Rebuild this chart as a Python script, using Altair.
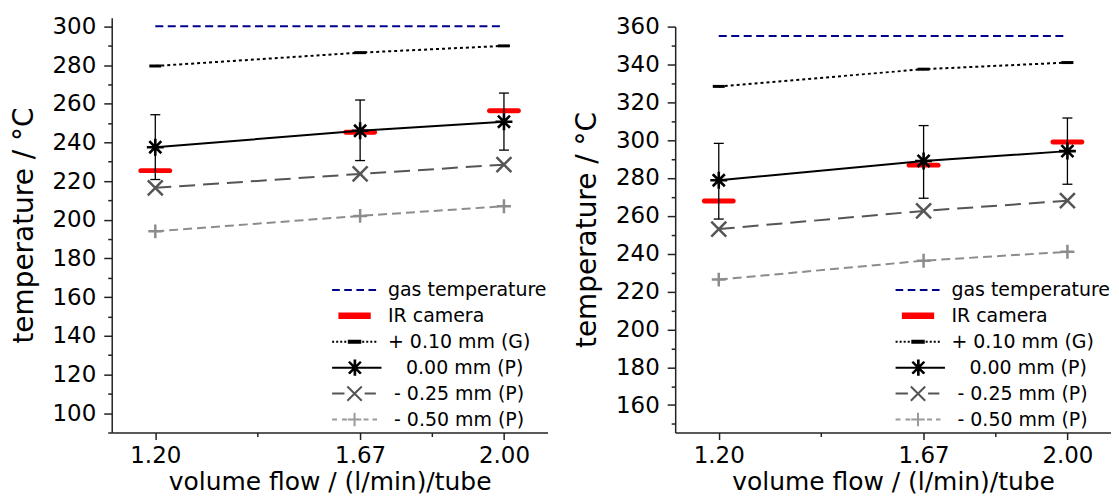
import altair as alt
import pandas as pd

FONT = "DejaVu Sans"

flow = [1.20, 1.67, 2.00]

# ---- left panel values (°C) ----
L_gas = [300.0, 300.0, 300.0]
L_ir = [225.4, 245.2, 256.3]
L_g010 = [279.5, 286.4, 289.9]
L_p000 = [237.5, 246.0, 250.7]
L_p000_lo = [220.8, 230.6, 236.0]
L_p000_hi = [254.3, 261.9, 265.5]
L_p025 = [216.5, 223.7, 228.5]
L_p050 = [194.0, 202.0, 207.0]

# ---- right panel values (°C) ----
R_gas = [355.0, 355.0, 355.0]
R_ir = [267.9, 286.8, 299.0]
R_g010 = [328.4, 337.5, 341.0]
R_p000 = [278.8, 289.0, 294.2]
R_p000_lo = [258.3, 269.3, 276.7]
R_p000_hi = [298.3, 307.7, 311.7]
R_p025 = [253.0, 262.6, 268.0]
R_p050 = [226.3, 236.3, 241.0]

x_major = [1.20, 1.67, 2.00]
x_minor = [1.435, 1.835]

ZW = "\u200b"
NB = "\u00a0"
series = ["gas temperature", "IR camera", "+ 0.10 mm (G)",
          ZW + NB * 3 + "0.00 mm (P)", ZW + NB + "- 0.25 mm (P)", ZW + NB + "- 0.50 mm (P)"]

NAVY = "#00008b"
RED = "#ff0000"
BLACK = "#000000"
DGRAY = "#555555"
LGRAY = "#8c8c8c"
series_colors = [NAVY, RED, BLACK, BLACK, DGRAY, "#9a9a9a"]


def segs(x0, x1, dash, gap, y=0.0):
    out = []
    x = x0
    while x < x1 - 1e-9:
        e = min(x + dash, x1)
        out.append(f"M{x:.3f},{y:.3f}H{e:.3f}")
        x = e + gap
    return "".join(out)


ASTER = "M0,-1V1M-1,0H1M-0.71,-0.71L0.71,0.71M-0.71,0.71L0.71,-0.71"
XMARK = "M-1,-1L1,1M-1,1L1,-1"
PLUS = "M-1,0H1M0,-1V1"

leg_paths = [
    segs(-1, 1, 0.34, 0.2),
    "".join(f"M-0.72,{y}H0.72" for y in (-0.1, -0.05, 0, 0.05, 0.1)),
    segs(-1, -0.32, 0.09, 0.09) + "M-0.3,0H0.3M-0.3,0.04H0.3M-0.3,-0.04H0.3" + segs(0.34, 1, 0.09, 0.09),
    "M-1,0H1.2M0,-0.36V0.36M-0.36,0H0.36M-0.26,-0.26L0.26,0.26M-0.26,0.26L0.26,-0.26"
    "M0.03,-0.36V0.36M-0.23,-0.26L0.29,0.26M-0.23,0.26L0.29,-0.26",
    "M-1,0H-0.45M0.45,0H0.95M-0.32,-0.32L0.32,0.32M-0.32,0.32L0.32,-0.32",
    segs(-1, -0.34, 0.22, 0.22) + "M-0.3,0H0.3M0,-0.3V0.3" + segs(0.4, 1, 0.22, 0.18),
]

X_TEST = " && ".join(f"datum.value != {v}" for v in x_minor)


def xenc():
    return alt.X(
        "flow:Q",
        scale=alt.Scale(domain=[1.1, 2.1], nice=False, zero=False),
        axis=alt.Axis(
            values=sorted(x_major + x_minor),
            labelExpr=f"({X_TEST}) ? format(datum.value, '.2f') : ''",
            tickSize={"expr": f"({X_TEST}) ? 7 : 4"},
            labelOverlap=False, labelFlush=False, grid=False,
            labelPadding=5, titlePadding=2, titleFontSize=25,
        ),
        title="volume flow / (l/min)/tube",
    )


def yenc(field, domain, rng, vals):
    sc = alt.Scale(domain=domain, nice=False, zero=False)
    if rng is not None:
        sc = alt.Scale(domain=domain, nice=False, zero=False, range=rng)
    return alt.Y(
        f"{field}:Q",
        scale=sc,
        axis=alt.Axis(
            values=vals,
            labelExpr="datum.value % 20 === 0 ? datum.label : ''",
            tickSize={"expr": "datum.value % 20 === 0 ? 8 : 4"},
            labelOverlap=False, grid=False,
            labelPadding=8, titlePadding=14, titleFontSize=28,
        ),
        title="temperature / °C",
    )


def panel(gas, ir, g, p0, lo, hi, p25, p50, domain, rng, vals):
    df = pd.DataFrame({"flow": flow, "gas": gas, "ir": ir, "g": g, "p0": p0,
                       "lo": lo, "hi": hi, "p25": p25, "p50": p50})
    base = alt.Chart(df)
    X = xenc
    Y = lambda f: yenc(f, domain, rng, vals)

    gas_l = base.mark_line(color=NAVY, strokeWidth=2, strokeDash=[8, 4.5]).encode(x=X(), y=Y("gas"))
    ir_t = base.mark_tick(orient="horizontal", color=RED, size=34, thickness=5, cornerRadius=2.5, opacity=1).encode(x=X(), y=Y("ir"))
    g_l = base.mark_line(color=BLACK, strokeWidth=2, strokeDash=[3, 3]).encode(x=X(), y=Y("g"))
    g_m = base.mark_tick(orient="horizontal", color=BLACK, size=12, thickness=3, opacity=1).encode(x=X(), y=Y("g"))
    p25_l = base.mark_line(color=DGRAY, strokeWidth=2, strokeDash=[16, 8]).encode(x=X(), y=Y("p25"))
    p25_m = base.mark_point(shape=XMARK, size=225, filled=False, strokeWidth=2.5, color=DGRAY, opacity=1).encode(x=X(), y=Y("p25"))
    p50_l = base.mark_line(color=LGRAY, strokeWidth=2, strokeDash=[9, 5]).encode(x=X(), y=Y("p50"))
    p50_m = base.mark_point(shape=PLUS, size=196, filled=False, strokeWidth=2.5, color=LGRAY, opacity=1).encode(x=X(), y=Y("p50"))
    err = base.mark_rule(color=BLACK, strokeWidth=1.3).encode(x=X(), y=Y("lo"), y2="hi:Q")
    cap_lo = base.mark_tick(orient="horizontal", color=BLACK, size=10, thickness=1.3, opacity=1).encode(x=X(), y=Y("lo"))
    cap_hi = base.mark_tick(orient="horizontal", color=BLACK, size=10, thickness=1.3, opacity=1).encode(x=X(), y=Y("hi"))
    p0_l = base.mark_line(color=BLACK, strokeWidth=2).encode(x=X(), y=Y("p0"))
    p0_m = base.mark_point(shape=ASTER, size=289, filled=False, strokeWidth=2.6, color=BLACK, opacity=1).encode(x=X(), y=Y("p0"))

    leg_df = pd.DataFrame({"series": series})
    legend = alt.Legend(
        title=None, orient="bottom-right", offset=0, padding=0,
        symbolSize=2025, symbolStrokeWidth=2, symbolOffset=0, symbolOpacity=1,
        labelOffset=10, labelFontSize=19, labelFont=FONT, labelColor="black",
        clipHeight=26, rowPadding=0, labelLimit=400,
    )
    leg = alt.Chart(leg_df).mark_point(filled=False, opacity=0, size=2025).encode(
        color=alt.Color("series:N", scale=alt.Scale(domain=series, range=series_colors), legend=legend),
        shape=alt.Shape("series:N", scale=alt.Scale(domain=series, range=leg_paths), legend=legend),
    )

    return alt.layer(ir_t, gas_l, g_l, g_m, p25_l, p25_m, p50_l, p50_m, err, cap_lo, cap_hi, p0_l, p0_m, leg).properties(
        width=437, height=416
    )


left = panel(L_gas, L_ir, L_g010, L_p000, L_p000_lo, L_p000_hi, L_p025, L_p050,
             [90, 304.5], None, list(range(90, 301, 10)))
right = panel(R_gas, R_ir, R_g010, R_p000, R_p000_lo, R_p000_hi, R_p025, R_p050,
              [145.5, 360], [416, 9], list(range(150, 361, 10)))

chart = alt.hconcat(left, right, spacing=26).resolve_scale(
    color="independent", shape="independent"
).resolve_legend(color="independent", shape="independent").properties(
    padding={"left": 2, "top": 6, "right": 0, "bottom": 0}
).configure_view(stroke=None).configure_axis(
    labelFont=FONT, titleFont=FONT, labelFontSize=23,
    labelColor="black", titleColor="black", titleFontWeight="normal",
    domainColor="#222222", tickColor="#222222", domainWidth=1.5, tickWidth=1.5,
)

chart.save("out.html", embed_options={"renderer": "svg", "actions": False})
